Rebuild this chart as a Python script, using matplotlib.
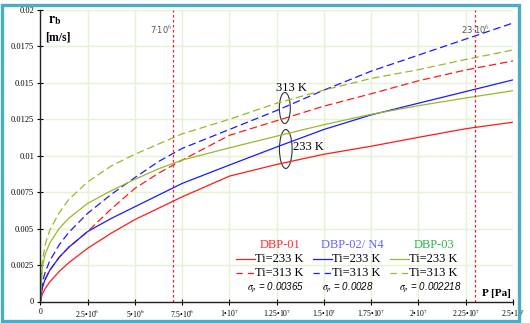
import matplotlib
matplotlib.use("Agg")
import matplotlib.pyplot as plt
from matplotlib.lines import Line2D
from matplotlib.patches import Rectangle, Ellipse

plt.rcParams['mathtext.fontset'] = 'stix'

# ---------------- data ----------------
P = [0, 0.1e6, 0.25e6, 0.5e6, 1e6, 1.5e6, 2.5e6, 3.75e6, 5e6, 6.25e6, 7.5e6,
     1e7, 1.25e7, 1.5e7, 1.75e7, 2e7, 2.25e7, 2.5e7]

dbp01_233 = [0, 0.0005, 0.00088, 0.00135, 0.00207, 0.00266, 0.00365, 0.00469, 0.00562, 0.0064, 0.00718,
             0.0086, 0.0094, 0.0101, 0.01065, 0.01126, 0.01185, 0.0123]
dbp01_313 = [0, 0.00096, 0.00152, 0.00215, 0.00304, 0.00372, 0.0048, 0.00635, 0.00776, 0.0088, 0.0097,
             0.0114, 0.0124, 0.0134, 0.01425, 0.01514, 0.01588, 0.0165]
dbp02_233 = [0, 0.00096, 0.00152, 0.00215, 0.00304, 0.00372, 0.0048, 0.0057, 0.0065, 0.0073, 0.0081,
             0.00936, 0.0106, 0.0118, 0.0128, 0.0136, 0.0144, 0.0152]
dbp02_313 = [0, 0.00129, 0.002, 0.0028, 0.0039, 0.00474, 0.00605, 0.00735, 0.0085, 0.0096, 0.0105,
             0.0118, 0.0131, 0.0145, 0.0158, 0.0169, 0.0180, 0.0191]
dbp03_233 = [0, 0.0024, 0.00322, 0.00402, 0.00502, 0.00571, 0.00673, 0.0076, 0.00838, 0.0091, 0.0097,
             0.01054, 0.01134, 0.01213, 0.01284, 0.01343, 0.01396, 0.01446]
dbp03_313 = [0, 0.0027, 0.0039, 0.0049, 0.0061, 0.0070, 0.0082, 0.0093, 0.0101, 0.0108, 0.0115,
             0.0125, 0.0136, 0.0145, 0.0153, 0.0159, 0.0166, 0.01725]

xticks = [0, 2.5e6, 5e6, 7.5e6, 1e7, 1.25e7, 1.5e7, 1.75e7, 2e7, 2.25e7, 2.5e7]
xticklabels = ['0', '2.5\u202210$^6$', '5\u202210$^6$', '7.5\u202210$^6$', '1\u202210$^7$',
               '1.25\u202210$^7$', '1.5\u202210$^7$', '1.75\u202210$^7$', '2\u202210$^7$',
               '2.25\u202210$^7$', '2.5\u202210$^7$']
yticks = [0, 0.0025, 0.005, 0.0075, 0.01, 0.0125, 0.015, 0.0175, 0.02]
yticklabels = ['0', '0.0025', '0.005', '0.0075', '0.01', '0.0125', '0.015', '0.0175', '0.02']

vlines = [7e6, 23e6]
vline_labels = ['7\u00b710$^6$', '23\u00b710$^6$']

series_names = ['DBP-01', 'DBP-02/ N4', 'DBP-03']
sigmas = ['0.00365', '0.0028', '0.002218']

# ---------------- styling ----------------
RED = '#ff1a1a'
BLUE = '#1a1aff'
GREEN = '#99b82b'
W, H = 530, 323

fig = plt.figure(figsize=(W / 100, H / 100), dpi=100)


def fx(px):
    return px / W


def fy(py):
    return 1 - py / H


ax_l, ax_r, ax_b, ax_t = 40.4, 513.0, 301.5, 9.9
ax = fig.add_axes([fx(ax_l), fy(ax_b), fx(ax_r - ax_l), (ax_b - ax_t) / H])
ax.set_xlim(0, 2.5e7)
ax.set_ylim(0, 0.02)
ax.set_axisbelow(True)
ax.grid(True, color='#e2f4d4', lw=1.0)
for s in ['top', 'right']:
    ax.spines[s].set_visible(False)
for s in ['left', 'bottom']:
    ax.spines[s].set_linewidth(1.0)
    ax.spines[s].set_color('#222222')

ax.set_xticks(xticks)
ax.set_xticklabels(xticklabels, fontsize=5.5, family='Liberation Serif')
ax.set_yticks(yticks)
ax.set_yticklabels(yticklabels, fontsize=6, family='Liberation Serif')
ax.tick_params(direction='inout', length=5, width=0.8, pad=2)

dash = (0, (6, 3))
lw = 0.9
ax.plot(P, dbp01_233, color=RED, lw=lw)
ax.plot(P, dbp01_313, color=RED, lw=lw, ls=dash)
ax.plot(P, dbp02_233, color=BLUE, lw=lw)
ax.plot(P, dbp02_313, color=BLUE, lw=lw, ls=dash)
ax.plot(P, dbp03_233, color=GREEN, lw=lw)
ax.plot(P, dbp03_313, color=GREEN, lw=lw, ls=dash)

for xv in vlines:
    ax.axvline(xv, color=RED, lw=0.9, ls=(0, (2, 2)))
ax.text(vlines[0], 0.0186, vline_labels[0], fontsize=6, color='#555555', ha='right', va='center')
ax.text(vlines[1], 0.0186, vline_labels[1], fontsize=6, color='#555555', ha='center', va='center')

# ellipses + temperature labels
ax.add_patch(Ellipse((1.293e7, 0.01327), 5.8e5, 0.00213, fill=False, ec='#333333', lw=0.8))
ax.add_patch(Ellipse((1.298e7, 0.01046), 6.7e5, 0.00267, fill=False, ec='#333333', lw=0.8))
ax.text(1.33e7, 0.01464, '313 K', fontsize=9, family='Liberation Serif', ha='center', va='center')
ax.text(1.335e7, 0.0106, '233 K', fontsize=9, family='Liberation Serif', ha='left', va='center')

# axis labels
fig.text(fx(55), fy(20), r'$\mathbf{r}_{\mathbf{b}}$', fontsize=10, ha='center', va='center')
fig.text(fx(58), fy(38), '[m/s]', fontsize=8.5, family='Liberation Serif', weight='bold',
         ha='center', va='center')
fig.text(fx(496), fy(294), 'P [Pa]', fontsize=8, family='Liberation Serif', weight='bold',
         ha='center', va='center')

# legend block
cols = [(236, RED, '#ff2a2a', 276), (313, BLUE, '#6464ff', 348), (390, GREEN, '#33b24d', 430)]
for (x0, lc, tc, cx), name, sg in zip(cols, series_names, sigmas):
    fig.text(fx(cx + 4), fy(245), name, fontsize=9, family='Liberation Serif', color=tc,
             ha='center', va='center')
    fig.add_artist(Line2D([fx(x0), fx(x0 + 19)], [fy(259), fy(259)], color=lc, lw=0.9))
    fig.add_artist(Line2D([fx(x0), fx(x0 + 19)], [fy(273), fy(273)], color=lc, lw=0.9,
                          ls=(0, (5, 4))))
    fig.text(fx(x0 + 19), fy(259), 'Ti=233 K', fontsize=9, family='Liberation Serif',
             ha='left', va='center')
    fig.text(fx(x0 + 19), fy(273), 'Ti=313 K', fontsize=9, family='Liberation Serif',
             ha='left', va='center')
    fig.text(fx(cx), fy(288), r'$\sigma_p$ = ' + sg, fontsize=7, family='Liberation Sans',
             style='italic', ha='center', va='center')

# teal frame
fig.add_artist(Rectangle((fx(1.5), fy(321)), fx(519 - 1.5), (321 - 5) / H, fill=False,
                         ec='#4bacc6', lw=2.4, transform=fig.transFigure))

fig.savefig('out.png', dpi=100)
